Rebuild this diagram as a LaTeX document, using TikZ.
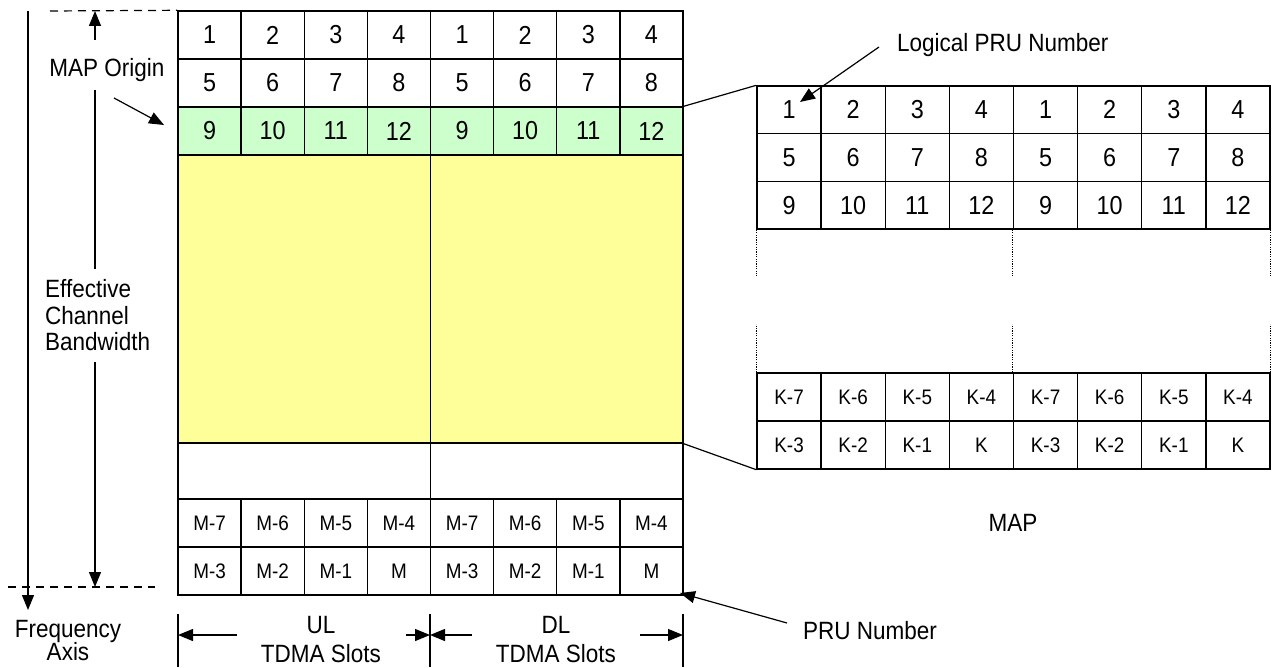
\documentclass[tikz,border=0pt]{standalone}
\usepackage{fontspec}
\setmainfont{Liberation Sans}[FakeStretch=0.9]
\usetikzlibrary{arrows.meta}

\definecolor{mapgreen}{HTML}{CCFFCC}
\definecolor{padyellow}{HTML}{FFFF99}

\tikzset{
  cell/.style={draw, line width=1.4pt, inner sep=0pt, minimum width=63.125pt,
    minimum height=48pt, font=\fontsize{26}{28}\selectfont},
  mcell/.style={cell, font=\fontsize{21}{23}\selectfont},
  rcell/.style={cell, minimum width=64.125pt, minimum height=47.7pt},
  kcell/.style={rcell, minimum height=48pt, font=\fontsize{21}{23}\selectfont},
  pane/.style={draw, line width=1.4pt, inner sep=0pt, minimum width=252.5pt},
  lbl/.style={inner sep=0pt, anchor=base, font=\fontsize{25}{27}\selectfont},
  pointer/.style={-{Triangle[length=15pt,width=12pt]}, line width=1.2pt},
  guide/.style={line width=1.2pt, dash pattern=on 8pt off 6pt},
  thinline/.style={line width=1.2pt},
  gapline/.style={line width=1pt, dash pattern=on 1.2pt off 1.2pt},
}

\begin{document}
\begin{tikzpicture}[x=1pt, y=-1pt]
  \useasboundingbox (0,0) rectangle (1277,668);
  % MAP rows and data region
  \fill[mapgreen] (178,107) rectangle (683,155);
  \node[pane, fill=padyellow, minimum height=288pt] (ulpad) at (304.25,299) {};
  \node[pane, fill=padyellow, minimum height=288pt] (dlpad) at (556.75,299) {};
  \node[pane, minimum height=56pt] (ulgap) at (304.25,471) {};
  \node[pane, minimum height=56pt] (dlgap) at (556.75,471) {};
  % PRU cells, frame and MAP
  \foreach \h in {0,1}
    \foreach \c in {1,...,4}
      \foreach \r in {1,2,3} {
        \pgfmathtruncatemacro\idx{(\r-1)*4+\c}
        \pgfmathtruncatemacro\col{\h*4+\c}
        \node[cell] (p\r-\col) at ({178+(\col-0.5)*63.125}, {11+(\r-0.5)*48}) {\idx};
        \node[rcell] (q\r-\col) at ({757+(\col-0.5)*64.125}, {86+(\r-0.5)*47.7}) {\idx};
      }
  \foreach \h in {0,1} {
    \foreach \lab [count=\c] in {M-7,M-6,M-5,M-4} {
      \pgfmathtruncatemacro\col{\h*4+\c}
      \node[mcell] (m1-\col) at ({178+(\col-0.5)*63.125}, 523) {\lab};
    }
    \foreach \lab [count=\c] in {M-3,M-2,M-1,M} {
      \pgfmathtruncatemacro\col{\h*4+\c}
      \node[mcell] (m2-\col) at ({178+(\col-0.5)*63.125}, 571) {\lab};
    }
    \foreach \lab [count=\c] in {K-7,K-6,K-5,K-4} {
      \pgfmathtruncatemacro\col{\h*4+\c}
      \node[kcell] (k1-\col) at ({757+(\col-0.5)*64.125}, 397) {\lab};
    }
    \foreach \lab [count=\c] in {K-3,K-2,K-1,K} {
      \pgfmathtruncatemacro\col{\h*4+\c}
      \node[kcell] (k2-\col) at ({757+(\col-0.5)*64.125}, 445) {\lab};
    }
  }
  % zoom lines and gaps in the MAP
  \draw[thinline] (p3-8.north east) -- (q1-1.north west);
  \draw[thinline] (dlpad.south east) -- (k2-1.south west);
  \foreach \a in {q3-1.south west, q3-5.south west, q3-8.south east}
    \draw[gapline] (\a) -- ++(0,46);
  \foreach \a in {k1-1.north west, k1-5.north west, k1-8.north east}
    \draw[gapline] (\a) -- ++(0,-48);
  \node[lbl] (maplbl) at (1013,531) {MAP};
  \node[lbl, anchor=base west] (lpru) at (897,52) {Logical PRU Number};
  \coordinate (lprutail) at (879,47);
  \coordinate (lpruhead) at (800,102);
  \draw[pointer] (lprutail) -- (lpruhead);
  \node[lbl, anchor=base west] (pru) at (803,639) {PRU Number};
  \coordinate (prutail) at (787,623);
  \coordinate (pruhead) at (680,593);
  \draw[pointer] (prutail) -- (pruhead);
  % frequency axis and bandwidth
  \draw[guide] (50,11) -- (p1-1.north west);
  \draw[guide] (8,587) -- (155,587);
  \coordinate (ftop) at (28,11);
  \coordinate (fbot) at (28,610);
  \draw[pointer] (ftop) -- (fbot);
  \node[lbl] (freq) at (68,637) {Frequency};
  \node[lbl] (axis) at (68,660) {Axis};
  \coordinate (bwtop) at (95,11);
  \coordinate (bwbot) at (95,587);
  \node[lbl] (maporg) at (107,77) {MAP Origin};
  \draw[pointer] (95,40) -- (bwtop);
  \draw[thinline] (95,90) -- (95,269);
  \node[lbl, anchor=base west] (bw1) at (45,298) {Effective};
  \node[lbl, anchor=base west] (bw2) at (45,324) {Channel};
  \node[lbl, anchor=base west] (bw3) at (45,350) {Bandwidth};
  \draw[pointer] (95,362) -- (bwbot);
  \coordinate (origtail) at (114,98);
  \coordinate (orighead) at (164,125);
  \draw[pointer] (origtail) -- (orighead);
  % TDMA slots
  \foreach \x in {178,430,683}
    \draw[thinline] (\x,614) -- (\x,667);
  \draw[pointer] (237,635) -- (178,635);
  \draw[pointer] (406,635) -- (430,635);
  \draw[pointer] (472,635) -- (430,635);
  \draw[pointer] (640,635) -- (683,635);
  \node[lbl] (ul) at (321,633) {UL};
  \node[lbl] (ulslots) at (321,662) {TDMA Slots};
  \node[lbl] (dl) at (556,633) {DL};
  \node[lbl] (dlslots) at (556,662) {TDMA Slots};
\end{tikzpicture}
\end{document}
